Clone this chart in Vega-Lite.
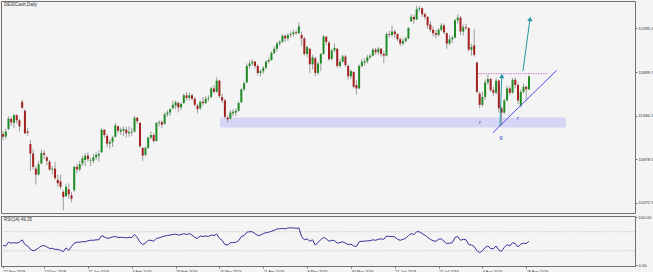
{
"$schema":"https://vega.github.io/schema/vega-lite/v6.json",
"autosize":{"type":"pad"},
"padding":0,
"background":"#f4f4f4",
"spacing":0,
"config":{"view":{"stroke":"#707070","strokeWidth":1},"font":"Liberation Sans","concat":{"spacing":0},
 "axis":{"labelOverlap":false,"labelBound":false,"labelFlush":false,"labelSeparation":0,"labelColor":"#333","tickColor":"#777","tickSize":2,"labelPadding":1,"grid":false,"domain":false,"title":null}},
"datasets":{
"ohlc":[
{"i":0,"o":11170,"h":11205,"l":11100,"c":11140},{"i":1,"o":11140,"h":11230,"l":11115,"c":11200},{"i":2,"o":11230,"h":11375,"l":11215,"c":11350},{"i":3,"o":11345,"h":11370,"l":11265,"c":11305},{"i":4,"o":11300,"h":11405,"l":11240,"c":11390},{"i":5,"o":11390,"h":11400,"l":11290,"c":11330},{"i":6,"o":11330,"h":11345,"l":11200,"c":11260},{"i":7,"o":11545,"h":11570,"l":11460,"c":11475},{"i":8,"o":11440,"h":11460,"l":11170,"c":11180},{"i":9,"o":11200,"h":11245,"l":11150,"c":11185},
{"i":10,"o":11055,"h":11100,"l":10742,"c":10945},{"i":11,"o":10945,"h":11000,"l":10760,"c":10790},{"i":12,"o":10770,"h":10800,"l":10585,"c":10700},{"i":13,"o":10700,"h":10860,"l":10690,"c":10820},{"i":14,"o":10830,"h":10990,"l":10820,"c":10950},{"i":15,"o":10950,"h":10985,"l":10880,"c":10930},{"i":16,"o":10900,"h":10920,"l":10810,"c":10860},{"i":17,"o":10850,"h":10870,"l":10740,"c":10760},{"i":18,"o":10760,"h":10800,"l":10700,"c":10770},{"i":19,"o":10770,"h":10850,"l":10640,"c":10660},
{"i":20,"o":10640,"h":10700,"l":10560,"c":10600},{"i":21,"o":10620,"h":10700,"l":10530,"c":10560},{"i":22,"o":10500,"h":10520,"l":10285,"c":10440},{"i":23,"o":10450,"h":10590,"l":10440,"c":10560},{"i":24,"o":10530,"h":10600,"l":10420,"c":10470},{"i":25,"o":10460,"h":10500,"l":10380,"c":10420},{"i":26,"o":10520,"h":10800,"l":10500,"c":10790},{"i":27,"o":10790,"h":10830,"l":10720,"c":10760},{"i":28,"o":10760,"h":10860,"l":10740,"c":10820},{"i":29,"o":10830,"h":10920,"l":10800,"c":10890},
{"i":30,"o":10870,"h":10950,"l":10800,"c":10920},{"i":31,"o":10920,"h":10960,"l":10850,"c":10880},{"i":32,"o":10860,"h":10900,"l":10800,"c":10865},{"i":33,"o":10860,"h":10940,"l":10830,"c":10900},{"i":34,"o":10900,"h":10960,"l":10870,"c":10930},{"i":35,"o":10920,"h":10980,"l":10850,"c":10940},{"i":36,"o":10960,"h":11240,"l":10950,"c":11220},{"i":37,"o":11220,"h":11230,"l":11130,"c":11160},{"i":38,"o":11150,"h":11170,"l":11020,"c":11060},{"i":39,"o":11060,"h":11110,"l":11000,"c":11080},
{"i":40,"o":11080,"h":11150,"l":11020,"c":11130},{"i":41,"o":11140,"h":11300,"l":11130,"c":11270},{"i":42,"o":11260,"h":11270,"l":11180,"c":11210},{"i":43,"o":11200,"h":11250,"l":11160,"c":11220},{"i":44,"o":11210,"h":11260,"l":11150,"c":11230},{"i":45,"o":11220,"h":11260,"l":11130,"c":11180},{"i":46,"o":11180,"h":11260,"l":11140,"c":11195},{"i":47,"o":11190,"h":11240,"l":11150,"c":11200},{"i":48,"o":11200,"h":11380,"l":11190,"c":11360},{"i":49,"o":11360,"h":11370,"l":11290,"c":11320},
{"i":50,"o":11300,"h":11310,"l":11010,"c":11030},{"i":51,"o":11010,"h":11020,"l":10860,"c":10920},{"i":52,"o":10930,"h":11030,"l":10910,"c":11010},{"i":53,"o":11010,"h":11140,"l":11000,"c":11130},{"i":54,"o":11130,"h":11200,"l":11110,"c":11160},{"i":55,"o":11160,"h":11180,"l":11070,"c":11090},{"i":56,"o":11090,"h":11310,"l":11080,"c":11300},{"i":57,"o":11300,"h":11330,"l":11260,"c":11310},{"i":58,"o":11310,"h":11330,"l":11240,"c":11280},{"i":59,"o":11290,"h":11420,"l":11280,"c":11400},
{"i":60,"o":11400,"h":11450,"l":11370,"c":11420},{"i":61,"o":11420,"h":11470,"l":11380,"c":11460},{"i":62,"o":11470,"h":11560,"l":11460,"c":11510},{"i":63,"o":11500,"h":11560,"l":11460,"c":11540},{"i":64,"o":11530,"h":11550,"l":11420,"c":11480},{"i":65,"o":11480,"h":11540,"l":11450,"c":11520},{"i":66,"o":11530,"h":11640,"l":11520,"c":11620},{"i":67,"o":11620,"h":11660,"l":11560,"c":11590},{"i":68,"o":11590,"h":11650,"l":11560,"c":11620},{"i":69,"o":11620,"h":11640,"l":11560,"c":11580},
{"i":70,"o":11580,"h":11600,"l":11490,"c":11510},{"i":71,"o":11500,"h":11520,"l":11410,"c":11460},{"i":72,"o":11470,"h":11560,"l":11450,"c":11545},{"i":73,"o":11545,"h":11600,"l":11500,"c":11530},{"i":74,"o":11530,"h":11610,"l":11520,"c":11580},{"i":75,"o":11580,"h":11620,"l":11550,"c":11590},{"i":76,"o":11600,"h":11720,"l":11590,"c":11700},{"i":77,"o":11700,"h":11740,"l":11640,"c":11660},{"i":78,"o":11660,"h":11830,"l":11650,"c":11790},{"i":79,"o":11790,"h":11800,"l":11590,"c":11610},
{"i":80,"o":11600,"h":11640,"l":11530,"c":11560},{"i":81,"o":11560,"h":11580,"l":11350,"c":11370},{"i":82,"o":11360,"h":11390,"l":11300,"c":11340},{"i":83,"o":11350,"h":11450,"l":11340,"c":11420},{"i":84,"o":11410,"h":11460,"l":11380,"c":11430},{"i":85,"o":11420,"h":11470,"l":11380,"c":11440},{"i":86,"o":11440,"h":11550,"l":11430,"c":11530},{"i":87,"o":11540,"h":11700,"l":11530,"c":11690},{"i":88,"o":11690,"h":11780,"l":11670,"c":11760},{"i":89,"o":11770,"h":11990,"l":11760,"c":11960},
{"i":90,"o":11960,"h":12030,"l":11930,"c":11990},{"i":91,"o":11990,"h":12040,"l":11960,"c":12010},{"i":92,"o":12010,"h":12020,"l":11930,"c":11960},{"i":93,"o":11960,"h":11980,"l":11850,"c":11880},{"i":94,"o":11880,"h":11920,"l":11840,"c":11900},{"i":95,"o":11900,"h":11960,"l":11870,"c":11940},{"i":96,"o":11940,"h":12030,"l":11920,"c":12010},{"i":97,"o":12010,"h":12060,"l":11990,"c":12030},{"i":98,"o":12030,"h":12130,"l":12020,"c":12110},{"i":99,"o":12110,"h":12190,"l":12100,"c":12160},
{"i":100,"o":12160,"h":12240,"l":12130,"c":12220},{"i":101,"o":12220,"h":12260,"l":12190,"c":12240},{"i":102,"o":12240,"h":12330,"l":12230,"c":12310},{"i":103,"o":12310,"h":12330,"l":12240,"c":12280},{"i":104,"o":12280,"h":12340,"l":12250,"c":12320},{"i":105,"o":12320,"h":12360,"l":12290,"c":12330},{"i":106,"o":12330,"h":12380,"l":12300,"c":12350},{"i":107,"o":12350,"h":12380,"l":12320,"c":12340},{"i":108,"o":12340,"h":12470,"l":12330,"c":12420},{"i":109,"o":12320,"h":12360,"l":12190,"c":12280},
{"i":110,"o":12280,"h":12300,"l":12080,"c":12100},{"i":111,"o":12100,"h":12200,"l":12060,"c":12180},{"i":112,"o":12160,"h":12170,"l":11880,"c":11980},{"i":113,"o":11980,"h":12090,"l":11920,"c":12060},{"i":114,"o":12050,"h":12070,"l":11840,"c":11880},{"i":115,"o":11880,"h":12000,"l":11860,"c":11990},{"i":116,"o":11990,"h":12110,"l":11900,"c":12100},{"i":117,"o":12100,"h":12320,"l":12090,"c":12300},{"i":118,"o":12300,"h":12310,"l":12200,"c":12240},{"i":119,"o":12230,"h":12250,"l":12020,"c":12040},
{"i":120,"o":12040,"h":12160,"l":12030,"c":12140},{"i":121,"o":12140,"h":12220,"l":12120,"c":12170},{"i":122,"o":12160,"h":12170,"l":11940,"c":11960},{"i":123,"o":11960,"h":12040,"l":11940,"c":12010},{"i":124,"o":12010,"h":12090,"l":12000,"c":12070},{"i":125,"o":12070,"h":12090,"l":11950,"c":11970},{"i":126,"o":11960,"h":11980,"l":11800,"c":11840},{"i":127,"o":11840,"h":11920,"l":11810,"c":11900},{"i":128,"o":11890,"h":11900,"l":11700,"c":11720},{"i":129,"o":11740,"h":11800,"l":11630,"c":11700},
{"i":130,"o":11700,"h":11980,"l":11690,"c":11960},{"i":131,"o":11960,"h":12040,"l":11940,"c":12010},{"i":132,"o":12000,"h":12050,"l":11960,"c":12015},{"i":133,"o":12015,"h":12090,"l":11990,"c":12060},{"i":134,"o":12060,"h":12100,"l":12040,"c":12080},{"i":135,"o":12080,"h":12170,"l":12070,"c":12150},{"i":136,"o":12150,"h":12170,"l":12090,"c":12120},{"i":137,"o":12120,"h":12180,"l":12090,"c":12160},{"i":138,"o":12160,"h":12170,"l":12070,"c":12100},{"i":139,"o":12100,"h":12130,"l":11990,"c":12080},
{"i":140,"o":12080,"h":12350,"l":12070,"c":12330},{"i":141,"o":12330,"h":12370,"l":12290,"c":12320},{"i":142,"o":12320,"h":12430,"l":12300,"c":12360},{"i":143,"o":12360,"h":12380,"l":12280,"c":12330},{"i":144,"o":12330,"h":12340,"l":12250,"c":12270},{"i":145,"o":12270,"h":12290,"l":12190,"c":12220},{"i":146,"o":12220,"h":12280,"l":12200,"c":12250},{"i":147,"o":12250,"h":12300,"l":12230,"c":12280},{"i":148,"o":12280,"h":12410,"l":12270,"c":12400},{"i":149,"o":12480,"h":12560,"l":12470,"c":12530},
{"i":150,"o":12530,"h":12560,"l":12450,"c":12500},{"i":151,"o":12500,"h":12660,"l":12490,"c":12620},{"i":152,"o":12620,"h":12656,"l":12590,"c":12630},{"i":153,"o":12630,"h":12640,"l":12530,"c":12560},{"i":154,"o":12560,"h":12580,"l":12500,"c":12530},{"i":155,"o":12530,"h":12540,"l":12390,"c":12430},{"i":156,"o":12440,"h":12480,"l":12350,"c":12380},{"i":157,"o":12380,"h":12420,"l":12300,"c":12340},{"i":158,"o":12340,"h":12380,"l":12280,"c":12320},{"i":159,"o":12320,"h":12400,"l":12300,"c":12380},
{"i":160,"o":12380,"h":12460,"l":12360,"c":12430},{"i":161,"o":12430,"h":12450,"l":12330,"c":12350},{"i":162,"o":12340,"h":12350,"l":12160,"c":12220},{"i":163,"o":12220,"h":12320,"l":12200,"c":12270},{"i":164,"o":12270,"h":12310,"l":12230,"c":12290},{"i":165,"o":12290,"h":12510,"l":12280,"c":12490},{"i":166,"o":12490,"h":12560,"l":12450,"c":12520},{"i":167,"o":12520,"h":12540,"l":12320,"c":12360},{"i":168,"o":12360,"h":12440,"l":12310,"c":12410},{"i":169,"o":12410,"h":12450,"l":12380,"c":12400},
{"i":170,"o":12400,"h":12410,"l":12130,"c":12150},{"i":171,"o":12150,"h":12220,"l":12080,"c":12180},{"i":172,"o":12200,"h":12390,"l":12070,"c":12090},{"i":173,"o":12000,"h":12010,"l":11640,"c":11660},{"i":174,"o":11640,"h":11660,"l":11470,"c":11510},{"i":175,"o":11510,"h":11660,"l":11490,"c":11600},{"i":176,"o":11600,"h":11800,"l":11570,"c":11770},{"i":177,"o":11770,"h":11860,"l":11740,"c":11810},{"i":178,"o":11810,"h":11820,"l":11660,"c":11680},{"i":179,"o":11680,"h":11720,"l":11610,"c":11650},
{"i":180,"o":11650,"h":11820,"l":11630,"c":11790},{"i":181,"o":11790,"h":11800,"l":11420,"c":11470},{"i":182,"o":11470,"h":11490,"l":11270,"c":11420},{"i":183,"o":11420,"h":11580,"l":11400,"c":11560},{"i":184,"o":11560,"h":11730,"l":11550,"c":11700},{"i":185,"o":11700,"h":11720,"l":11620,"c":11650},{"i":186,"o":11650,"h":11820,"l":11640,"c":11800},{"i":187,"o":11800,"h":11830,"l":11700,"c":11740},{"i":188,"o":11740,"h":11770,"l":11520,"c":11560},{"i":189,"o":11500,"h":11690,"l":11480,"c":11660},
{"i":190,"o":11660,"h":11760,"l":11640,"c":11720},{"i":191,"o":11720,"h":11730,"l":11560,"c":11690},{"i":192,"o":11690,"h":11850,"l":11680,"c":11840}
],
"rsi":[
{"i":0,"v":41},{"i":1,"v":40},{"i":2,"v":48},{"i":3,"v":46},{"i":4,"v":47},{"i":5,"v":46},{"i":6,"v":48},{"i":7,"v":53},{"i":8,"v":43},{"i":9,"v":40},{"i":10,"v":33},{"i":11,"v":30},{"i":12,"v":32},{"i":13,"v":36},{"i":14,"v":40},{"i":15,"v":41},{"i":16,"v":38},{"i":17,"v":35},{"i":18,"v":35},{"i":19,"v":33},{"i":20,"v":33},{"i":21,"v":31},{"i":22,"v":28},{"i":23,"v":36},{"i":24,"v":31},{"i":25,"v":39},{"i":26,"v":46},{"i":27,"v":48},{"i":28,"v":48},{"i":29,"v":49},{"i":30,"v":49},{"i":31,"v":51},{"i":32,"v":52},{"i":33,"v":52},{"i":34,"v":53},{"i":35,"v":53},{"i":36,"v":62},{"i":37,"v":59},{"i":38,"v":56},{"i":39,"v":57},{"i":40,"v":59},{"i":41,"v":60},{"i":42,"v":58},{"i":43,"v":58},{"i":44,"v":58},{"i":45,"v":57},{"i":46,"v":58},{"i":47,"v":58},{"i":48,"v":64},{"i":49,"v":58},{"i":50,"v":48},{"i":51,"v":43},{"i":52,"v":46},{"i":53,"v":52},{"i":54,"v":52},{"i":55,"v":50},{"i":56,"v":56},{"i":57,"v":57},{"i":58,"v":59},{"i":59,"v":61},{"i":60,"v":62},{"i":61,"v":63},{"i":62,"v":64},{"i":63,"v":65},{"i":64,"v":63},{"i":65,"v":64},{"i":66,"v":66},{"i":67,"v":64},{"i":68,"v":66},{"i":69,"v":63},{"i":70,"v":58},{"i":71,"v":56},{"i":72,"v":61},{"i":73,"v":60},{"i":74,"v":61},{"i":75,"v":60},{"i":76,"v":63},{"i":77,"v":62},{"i":78,"v":65},{"i":79,"v":56},{"i":80,"v":52},{"i":81,"v":43},{"i":82,"v":42},{"i":83,"v":47},{"i":84,"v":47},{"i":85,"v":48},{"i":86,"v":51},{"i":87,"v":60},{"i":88,"v":62},{"i":89,"v":69},{"i":90,"v":70},{"i":91,"v":70},{"i":92,"v":66},{"i":93,"v":62},{"i":94,"v":63},{"i":95,"v":66},{"i":96,"v":68},{"i":97,"v":69},{"i":98,"v":71},{"i":99,"v":73},{"i":100,"v":76},{"i":101,"v":76},{"i":102,"v":77},{"i":103,"v":76},{"i":104,"v":78},{"i":105,"v":78},{"i":106,"v":78},{"i":107,"v":77},{"i":108,"v":78},{"i":109,"v":60},{"i":110,"v":53},{"i":111,"v":55},{"i":112,"v":50},{"i":113,"v":53},{"i":114,"v":42},{"i":115,"v":48},{"i":116,"v":53},{"i":117,"v":58},{"i":118,"v":55},{"i":119,"v":50},{"i":120,"v":52},{"i":121,"v":51},{"i":122,"v":46},{"i":123,"v":47},{"i":124,"v":49},{"i":125,"v":46},{"i":126,"v":43},{"i":127,"v":44},{"i":128,"v":40},{"i":129,"v":39},{"i":130,"v":49},{"i":131,"v":50},{"i":132,"v":50},{"i":133,"v":51},{"i":134,"v":51},{"i":135,"v":53},{"i":136,"v":52},{"i":137,"v":54},{"i":138,"v":55},{"i":139,"v":54},{"i":140,"v":61},{"i":141,"v":60},{"i":142,"v":60},{"i":143,"v":59},{"i":144,"v":54},{"i":145,"v":52},{"i":146,"v":54},{"i":147,"v":56},{"i":148,"v":62},{"i":149,"v":66},{"i":150,"v":64},{"i":151,"v":70},{"i":152,"v":70},{"i":153,"v":66},{"i":154,"v":63},{"i":155,"v":58},{"i":156,"v":54},{"i":157,"v":51},{"i":158,"v":50},{"i":159,"v":54},{"i":160,"v":55},{"i":161,"v":50},{"i":162,"v":45},{"i":163,"v":46},{"i":164,"v":47},{"i":165,"v":58},{"i":166,"v":60},{"i":167,"v":52},{"i":168,"v":54},{"i":169,"v":53},{"i":170,"v":43},{"i":171,"v":42},{"i":172,"v":39},{"i":173,"v":30},{"i":174,"v":26},{"i":175,"v":30},{"i":176,"v":37},{"i":177,"v":40},{"i":178,"v":35},{"i":179,"v":34},{"i":180,"v":40},{"i":181,"v":31},{"i":182,"v":29},{"i":183,"v":37},{"i":184,"v":43},{"i":185,"v":40},{"i":186,"v":47},{"i":187,"v":45},{"i":188,"v":38},{"i":189,"v":44},{"i":190,"v":46},{"i":191,"v":45},{"i":192,"v":50}
]
},
"vconcat":[
{
"width":634,"height":212,
"layer":[
{"data":{"values":[{"i1":79.2,"i2":205.5,"p1":11247,"p2":11363}]},
 "mark":{"type":"rect","fill":"#d5d5f5"},
 "encoding":{
  "x":{"field":"i1","type":"quantitative","scale":{"domain":[-0.73,230.7],"nice":false,"zero":false,"padding":0},"axis":null},
  "x2":{"field":"i2"},
  "y":{"field":"p1","type":"quantitative","scale":{"domain":[10255,12714],"nice":false,"zero":false},
       "axis":{"orient":"right","values":[12648.1,12521.7,12395.3,12268.9,12142.5,12016.1,11889.7,11763.3,11636.9,11510.5,11384.1,11257.7,11131.3,11004.9,10878.5,10752.1,10625.7,10499.3,10372.9],"format":".1f","labelFontSize":4.2,"labelOverlap":false}},
  "y2":{"field":"p2"}}},
{"data":{"name":"ohlc"},
 "mark":{"type":"rule","color":"#9c9c9c","strokeWidth":1},
 "encoding":{"x":{"field":"i","type":"quantitative"},"y":{"field":"l","type":"quantitative"},"y2":{"field":"h"}}},
{"data":{"name":"ohlc"},
 "mark":{"type":"bar","size":2},
 "encoding":{"x":{"field":"i","type":"quantitative"},"y":{"field":"o","type":"quantitative"},"y2":{"field":"c"},
  "color":{"condition":{"test":"datum.c >= datum.o","value":"#1f8b24"},"value":"#a3201f"}}},
{"data":{"values":[{"i":173.4,"p":11871},{"i":198.9,"p":11871}]},
 "mark":{"type":"line","color":"#c77bc7","strokeWidth":1,"strokeDash":[1.5,1]},
 "encoding":{"x":{"field":"i","type":"quantitative"},"y":{"field":"p","type":"quantitative"}}},
{"data":{"values":[{"i":178.8,"p":11186},{"i":202.1,"p":11910}]},
 "mark":{"type":"line","color":"#4b4bef","strokeWidth":1},
 "encoding":{"x":{"field":"i","type":"quantitative"},"y":{"field":"p","type":"quantitative"}}},
{"data":{"values":[{"a":1,"i":181.4,"p":11264},{"a":1,"i":182.05,"p":11830},{"a":2,"i":189.8,"p":11902},{"a":2,"i":192.3,"p":12490}]},
 "mark":{"type":"line","color":"#2497a3","strokeWidth":1},
 "encoding":{"x":{"field":"i","type":"quantitative"},"y":{"field":"p","type":"quantitative"},"detail":{"field":"a"}}},
{"data":{"values":[{"i":182.1,"p":11845}]},
 "mark":{"type":"point","shape":"triangle-up","filled":true,"color":"#2497a3","size":26,"angle":2,"opacity":1},
 "encoding":{"x":{"field":"i","type":"quantitative"},"y":{"field":"p","type":"quantitative"}}},
{"data":{"values":[{"i":192.4,"p":12505}]},
 "mark":{"type":"point","shape":"triangle-up","filled":true,"color":"#2497a3","size":26,"angle":8,"opacity":1},
 "encoding":{"x":{"field":"i","type":"quantitative"},"y":{"field":"p","type":"quantitative"}}},
{"data":{"values":[{"t":"r","i":174.1,"p":11310},{"t":"r","i":188,"p":11357},{"t":"g","i":181.8,"p":11136}]},
 "mark":{"type":"text","color":"#3b48d4","fontSize":6,"baseline":"middle","align":"center"},
 "encoding":{"x":{"field":"i","type":"quantitative"},"y":{"field":"p","type":"quantitative"},"text":{"field":"t"}}},
{"data":{"values":[{"t":"DE30Cash,Daily","i":0.4,"p":12670}]},
 "mark":{"type":"text","color":"#333","fontSize":4.5,"baseline":"middle","align":"left"},
 "encoding":{"x":{"field":"i","type":"quantitative"},"y":{"field":"p","type":"quantitative"},"text":{"field":"t"}}}
]
},
{
"width":634,"height":50,
"layer":[
{"data":{"values":[{"v":30},{"v":70}]},
 "mark":{"type":"rule","color":"#b0b0b0","strokeWidth":0.8,"strokeDash":[1,1.5]},
 "encoding":{"y":{"field":"v","type":"quantitative","scale":{"domain":[-2,103],"nice":false,"zero":false},
   "axis":{"orient":"right","values":[0,30,70,100],"format":".2f","labelFontSize":4.2,"labelOverlap":false}}}},
{"data":{"name":"rsi"},
 "mark":{"type":"line","color":"#33339a","strokeWidth":1},
 "encoding":{
  "x":{"field":"i","type":"quantitative","scale":{"domain":[-0.73,230.7],"nice":false,"zero":false,"padding":0},
   "axis":{"values":[0,7,15,23,31,39,47,55,63,71,79,87,95,103,111,119,127,135,143,151,159,167,175,183,191],
    "labelExpr":"['22 Nov 2018','3 Dec 2018','13 Dec 2018','28 Dec 2018','11 Jan 2019','23 Jan 2019','4 Feb 2019','14 Feb 2019','26 Feb 2019','8 Mar 2019','20 Mar 2019','1 Apr 2019','11 Apr 2019','25 Apr 2019','8 May 2019','20 May 2019','30 May 2019','11 Jun 2019','21 Jun 2019','3 Jul 2019','15 Jul 2019','25 Jul 2019','6 Aug 2019','16 Aug 2019','28 Aug 2019'][datum.value == 0 ? 0 : (datum.value + 1) / 8]",
    "labelAlign":"left","labelBaseline":"top","labelOverlap":false,"labelFontSize":3.8,"labelDx":1}},
  "y":{"field":"v","type":"quantitative"}}},
{"data":{"values":[{"t":"RSI(14) 49.35","i":0.4,"v":94}]},
 "mark":{"type":"text","color":"#333","fontSize":4.5,"baseline":"middle","align":"left"},
 "encoding":{"x":{"field":"i","type":"quantitative"},"y":{"field":"v","type":"quantitative"},"text":{"field":"t"}}}
]
}
]
}
